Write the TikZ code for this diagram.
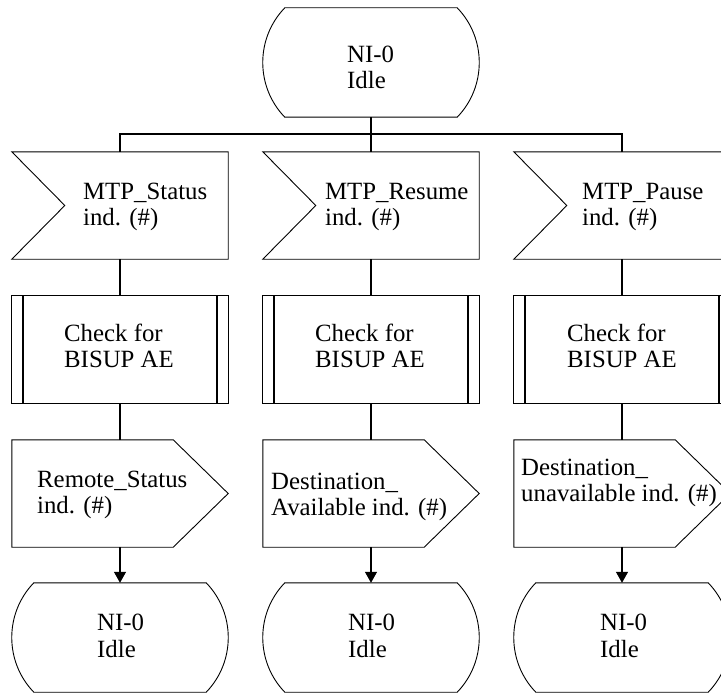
\documentclass[tikz,border=0pt]{standalone}
\usepackage{fontspec}
\setmainfont{Liberation Serif}
\usetikzlibrary{calc,arrows.meta}

% SDL symbol outlines drawn around invisible frame nodes
\newcommand\sdlstate[1]{%
  \draw[outline] ($(#1.north west)+(22,0)$) -- ($(#1.north east)+(-22,0)$)
    .. controls ($(#1.north east)+(7.4,30.4)$) and ($(#1.south east)+(7.4,-30.4)$) .. ($(#1.south east)+(-22,0)$)
    -- ($(#1.south west)+(22,0)$)
    .. controls ($(#1.south west)+(-7.4,-30.4)$) and ($(#1.north west)+(-7.4,30.4)$) .. ($(#1.north west)+(22,0)$) -- cycle;}
\newcommand\sdlinput[1]{%
  \draw[outline] (#1.north west) -- (#1.north east) -- (#1.south east) -- (#1.south west)
    -- ($(#1.west)+(53,0)$) -- cycle;}
\newcommand\sdlproc[1]{%
  \draw[outline] (#1.north west) rectangle (#1.south east);
  \draw[bar] ($(#1.north west)+(11,0)$) -- ($(#1.south west)+(11,0)$);
  \draw[bar] ($(#1.north east)+(-11,0)$) -- ($(#1.south east)+(-11,0)$);}
\newcommand\sdloutput[1]{%
  \draw[outline] (#1.north west) -- ($(#1.north east)+(-55,0)$) -- (#1.east)
    -- ($(#1.south east)+(-55,0)$) -- (#1.south west) -- cycle;}

\tikzset{
  frame/.style={rectangle, draw=none, inner sep=0pt, minimum width=216pt, minimum height=107pt},
  statebox/.style={frame, minimum height=109pt},
  outline/.style={draw=black, line width=0.9pt, line join=miter},
  bar/.style={draw=black, line width=1.8pt},
  link/.style={draw=black, line width=1.3pt},
  flow/.style={link, -{Triangle[length=11pt,width=12pt]}},
  txt/.style={anchor=west, align=left, inner sep=0pt, font=\fontsize{24.8pt}{26.5pt}\selectfont},
}

\begin{document}
\begin{tikzpicture}[x=1pt,y=-1pt]
\path[use as bounding box] (0,0) rectangle (721,693);
\clip (0,0) rectangle (721,693);

% frames
\node[statebox] (top) at (371,62.5) {};
\coordinate (bus) at (371,134);

\node[frame] (in1) at (120,205.5) {};
\node[frame] (in2) at (371,205.5) {};
\node[frame] (in3) at (622,205.5) {};

\node[frame] (pr1) at (120,349.5) {};
\node[frame] (pr2) at (371,349.5) {};
\node[frame] (pr3) at (622,349.5) {};

\node[frame] (out1) at (120,493.5) {};
\node[frame] (out2) at (371,493.5) {};
\node[frame] (out3) at (622,493.5) {};

\node[statebox] (end1) at (120,637.5) {};
\node[statebox] (end2) at (371,637.5) {};
\node[statebox] (end3) at (622,637.5) {};

% outlines
\sdlstate{top}
\sdlinput{in1} \sdlinput{in2} \sdlinput{in3}
\sdlproc{pr1} \sdlproc{pr2} \sdlproc{pr3}
\sdloutput{out1} \sdloutput{out2} \sdloutput{out3}
\sdlstate{end1} \sdlstate{end2} \sdlstate{end3}

% texts
\node[txt] (ttop) at (347,67.5) {NI-0\\Idle};
\node[txt] (tin1) at (83,207) {MTP\_Status\\ind. (\#)};
\node[txt] (tin2) at (325,207) {MTP\_Resume\\ind. (\#)};
\node[txt] (tin3) at (582,207) {MTP\_Pause\\ind. (\#)};
\node[txt] (tpr1) at (64,346) {Check for\\BISUP AE};
\node[txt] (tpr2) at (315,346) {Check for\\BISUP AE};
\node[txt] (tpr3) at (567,346) {Check for\\BISUP AE};
\node[txt] (tout1) at (37,495) {Remote\_Status\\ind. (\#)};
\node[txt] (tout2) at (271,497) {Destination\_\\Available ind. (\#)};
\node[txt] (tout3) at (521,483) {Destination\_\\unavailable ind. (\#)};
\node[txt] (tend1) at (97,636) {NI-0\\Idle};
\node[txt] (tend2) at (348,636) {NI-0\\Idle};
\node[txt] (tend3) at (600,636) {NI-0\\Idle};

% connectors
\draw[link] (top.south) -- (bus);
\draw[link] (in1.north) |- (bus) -| (in3.north);
\draw[link] (bus) -- (in2.north);
\foreach \i in {1,2,3} {
  \draw[link] (in\i.south) -- (pr\i.north);
  \draw[link] (pr\i.south) -- (out\i.north);
  \draw[flow] (out\i.south) -- (end\i.north);
}
\end{tikzpicture}
\end{document}
